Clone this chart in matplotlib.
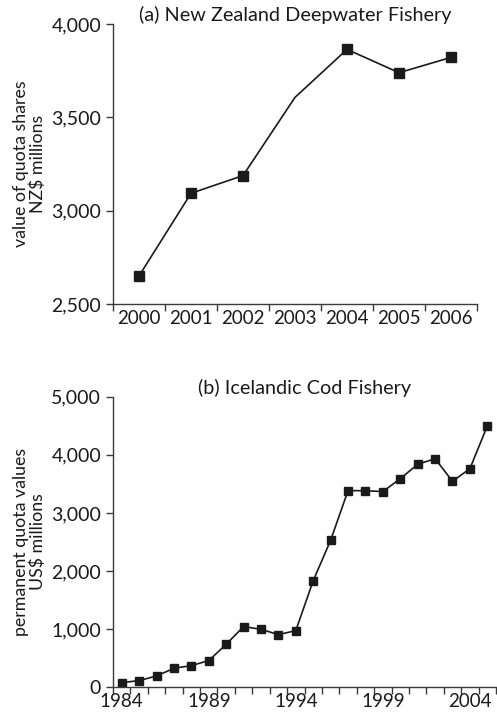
import matplotlib
matplotlib.use("Agg")
import matplotlib.pyplot as plt
from matplotlib.ticker import FuncFormatter, FixedLocator

plt.rcParams['font.family'] = ['Lato', 'DejaVu Sans']

# (a) New Zealand Deepwater Fishery
nz_years = [2000, 2001, 2002, 2003, 2004, 2005, 2006]
nz_values = [2650, 3093, 3188, 3607, 3864, 3739, 3821]
nz_marked = [True, True, True, False, True, True, True]

# (b) Icelandic Cod Fishery
ic_years = list(range(1984, 2006))
ic_values = [80, 115, 195, 327, 373, 459, 740, 1044, 998, 906, 975,
             1835, 2529, 3383, 3383, 3366, 3589, 3836, 3933, 3544, 3761, 4495]
ic_label_years = [1984, 1989, 1994, 1999, 2004]

line_col = '#1a1a1a'
spine_col = '#3a3a3a'
fs_tick = 14
fs_xtick = 13.5
fs_title = 14.3
fs_label = 12.8

fig = plt.figure(figsize=(4.97, 7.16), dpi=100)

def style(ax):
    for s in ['top', 'right']:
        ax.spines[s].set_visible(False)
    for s in ['left', 'bottom']:
        ax.spines[s].set_color(spine_col)
        ax.spines[s].set_linewidth(1.0)
    ax.tick_params(axis='both', which='major', direction='out', length=5,
                   width=1.0, color=spine_col, labelsize=fs_tick,
                   labelcolor='#1a1a1a', pad=3.5)
    ax.yaxis.set_major_formatter(FuncFormatter(lambda v, p: f"{int(v):,}"))

def cat_axis(ax, years, label_years):
    n = len(years)
    ax.set_xlim(-0.5, n - 0.5)
    ax.xaxis.set_major_locator(FixedLocator([i - 0.5 for i in range(n + 1)]))
    ax.xaxis.set_major_formatter(FuncFormatter(lambda v, p: ""))
    pos = [years.index(y) for y in label_years]
    ax.xaxis.set_minor_locator(FixedLocator(pos))
    ax.set_xticklabels([str(y) for y in label_years], minor=True)
    ax.tick_params(axis='x', which='minor', length=0, labelsize=fs_xtick, pad=4,
                   labelcolor='#1a1a1a')

# top chart
ax1 = fig.add_axes([0.2274, 0.5754, 0.7324, 0.3911])
style(ax1)
x1 = list(range(len(nz_years)))
mk1 = [i for i, m in enumerate(nz_marked) if m]
ax1.plot(x1, nz_values, color=line_col, lw=1.2, marker='s', ms=6.5,
         markevery=mk1, mfc=line_col, mec=line_col)
ax1.set_ylim(2500, 4000)
ax1.set_yticks([2500, 3000, 3500, 4000])
cat_axis(ax1, nz_years, nz_years)
ax1.set_ylabel("value of quota shares\nNZ$ millions", fontsize=fs_label,
               color='#1a1a1a', labelpad=4, linespacing=1.05)
ax1.set_title("(a) New Zealand Deepwater Fishery", fontsize=fs_title,
              color='#1a1a1a', pad=-2)

# bottom chart
ax2 = fig.add_axes([0.2274, 0.0401, 0.7706, 0.4059])
style(ax2)
x2 = list(range(len(ic_years)))
ax2.plot(x2, ic_values, color=line_col, lw=1.2, marker='s', ms=6,
         mfc=line_col, mec=line_col)
ax2.set_ylim(0, 5000)
ax2.set_yticks([0, 1000, 2000, 3000, 4000, 5000])
cat_axis(ax2, ic_years, ic_label_years)
ax2.set_ylabel("permanent quota values\nUS$ millions", fontsize=fs_label,
               color='#1a1a1a', labelpad=4, linespacing=1.05)
ax2.set_title("(b) Icelandic Cod Fishery", fontsize=fs_title, color='#1a1a1a',
              pad=-1)

fig.savefig("out.png", dpi=100)
